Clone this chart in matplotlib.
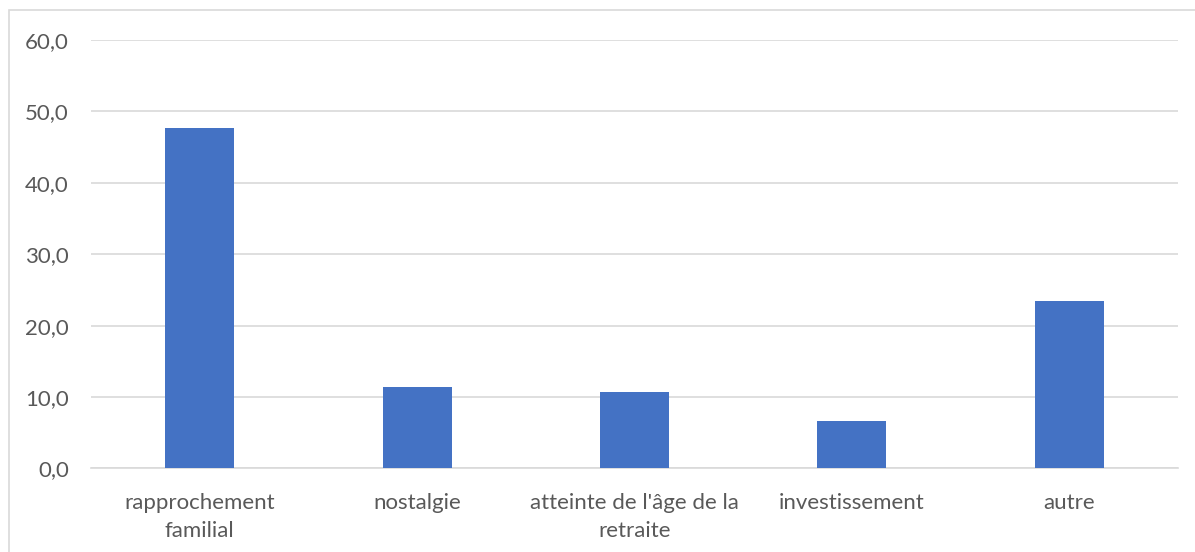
import matplotlib
matplotlib.use('Agg')
import matplotlib.pyplot as plt
from matplotlib.patches import Rectangle
from matplotlib.ticker import FuncFormatter

# data
categories = ['rapprochement\nfamilial', 'nostalgie', "atteinte de l'âge de la\nretraite",
              'investissement', 'autre']
values = [47.7, 11.4, 10.7, 6.6, 23.5]
yticks = [0, 10, 20, 30, 40, 50, 60]

plt.rcParams['font.family'] = ['Lato', 'DejaVu Sans']

fig = plt.figure(figsize=(11.95, 5.52), dpi=100)
ax = fig.add_axes([0.0762, 0.1513, 0.9096, 0.7762])

x = range(len(categories))
ax.bar(x, values, width=0.317, color='#4472C4', zorder=3)

ax.set_xlim(-0.5, len(categories) - 0.5)
ax.set_ylim(0, 60)
ax.set_yticks(yticks)
ax.yaxis.set_major_formatter(FuncFormatter(lambda v, p: f'{v:.1f}'.replace('.', ',')))
ax.set_xticks(list(x))
ax.set_xticklabels(categories, linespacing=1.45)

ax.grid(axis='y', color='#D9D9D9', linewidth=1.2, zorder=0)
for s in ['top', 'right', 'left']:
    ax.spines[s].set_visible(False)
ax.spines['bottom'].set_color('#D9D9D9')
ax.spines['bottom'].set_linewidth(1.2)

ax.tick_params(axis='both', length=0, labelsize=16, labelcolor='#595959')
ax.tick_params(axis='y', pad=16)
ax.tick_params(axis='x', pad=18)

# chart border
fig.patches.append(Rectangle((9 / 1195, -0.1), 1.2, 1 - 10 / 552 + 0.1,
                             transform=fig.transFigure, fill=False,
                             edgecolor='#D9D9D9', linewidth=1.2))

plt.savefig('out.png', dpi=100)
